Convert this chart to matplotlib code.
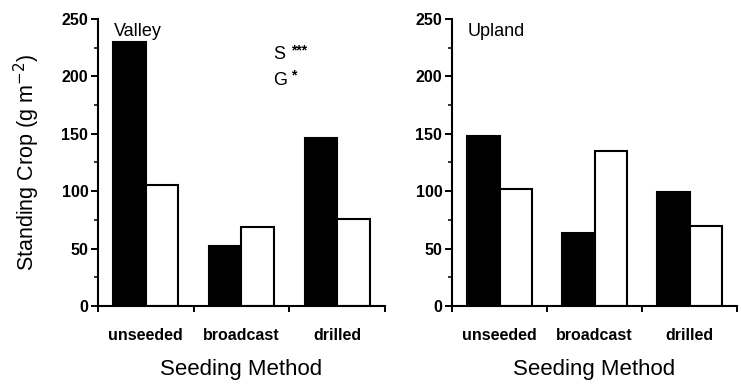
import matplotlib
matplotlib.use("Agg")
import matplotlib.pyplot as plt
import numpy as np
from matplotlib.ticker import MultipleLocator, FixedLocator

plt.rcParams['font.family'] = ['Liberation Sans', 'DejaVu Sans']

categories = ["unseeded", "broadcast", "drilled"]
valley_black = [230, 52, 146]
valley_white = [105, 69, 76]
upland_black = [148, 64, 99]
upland_white = [102, 135, 70]
panel_titles = ["Valley", "Upland"]
yticks = [0, 50, 100, 150, 200, 250]
sig_labels = ["S", "G"]
sig_stars = ["***", "*"]

fig = plt.figure(figsize=(7.41, 3.84), dpi=100)
ax1 = fig.add_axes([98/741, 78/384, 287/741, 287/384])
ax2 = fig.add_axes([452/741, 78/384, 285/741, 287/384])

x = np.arange(len(categories))
w = 0.34
for ax, blk, wht, title in [(ax1, valley_black, valley_white, panel_titles[0]),
                            (ax2, upland_black, upland_white, panel_titles[1])]:
    ax.bar(x - w/2, blk, width=w, color='black', edgecolor='black', linewidth=1.5)
    ax.bar(x + w/2, wht, width=w, color='white', edgecolor='black', linewidth=1.5)
    ax.set_xlim(-0.5, 2.5)
    ax.set_ylim(0, 250)
    ax.set_yticks(yticks)
    ax.yaxis.set_minor_locator(MultipleLocator(25))
    ax.set_xticks(x)
    ax.set_xticklabels(categories, fontsize=11.5, fontweight='bold')
    ax.xaxis.set_minor_locator(FixedLocator([-0.5, 0.5, 1.5, 2.5]))
    ax.tick_params(axis='x', which='major', length=0, pad=16)
    ax.tick_params(axis='x', which='minor', length=4, width=1.4, direction='out')
    ax.tick_params(axis='y', which='major', length=5, width=1.4, labelsize=11.5, pad=2)
    for lbl in ax.get_yticklabels():
        lbl.set_fontweight('bold')
    ax.tick_params(axis='y', which='minor', length=3, width=1.1)
    for s in ['top', 'right']:
        ax.spines[s].set_visible(False)
    for s in ['left', 'bottom']:
        ax.spines[s].set_linewidth(1.5)
    ax.set_xlabel("Seeding Method", fontsize=16, labelpad=11)
    ax.text(0.055, 0.955, title, transform=ax.transAxes, fontsize=13,
            ha='left', va='center')

ax1.set_ylabel("Standing Crop (g m$^{-2}$)", fontsize=15.5, labelpad=14)
for lab, stars, yy in zip(sig_labels, sig_stars, [0.875, 0.787]):
    ax1.text(0.61, yy, lab, transform=ax1.transAxes, fontsize=13,
             ha='left', va='center')
    ax1.annotate(stars, xy=(0.61, yy), xycoords='axes fraction',
                 xytext=(13, 3), textcoords='offset points',
                 fontsize=10, fontweight='bold', ha='left', va='center')

fig.savefig("out.png", dpi=100)
